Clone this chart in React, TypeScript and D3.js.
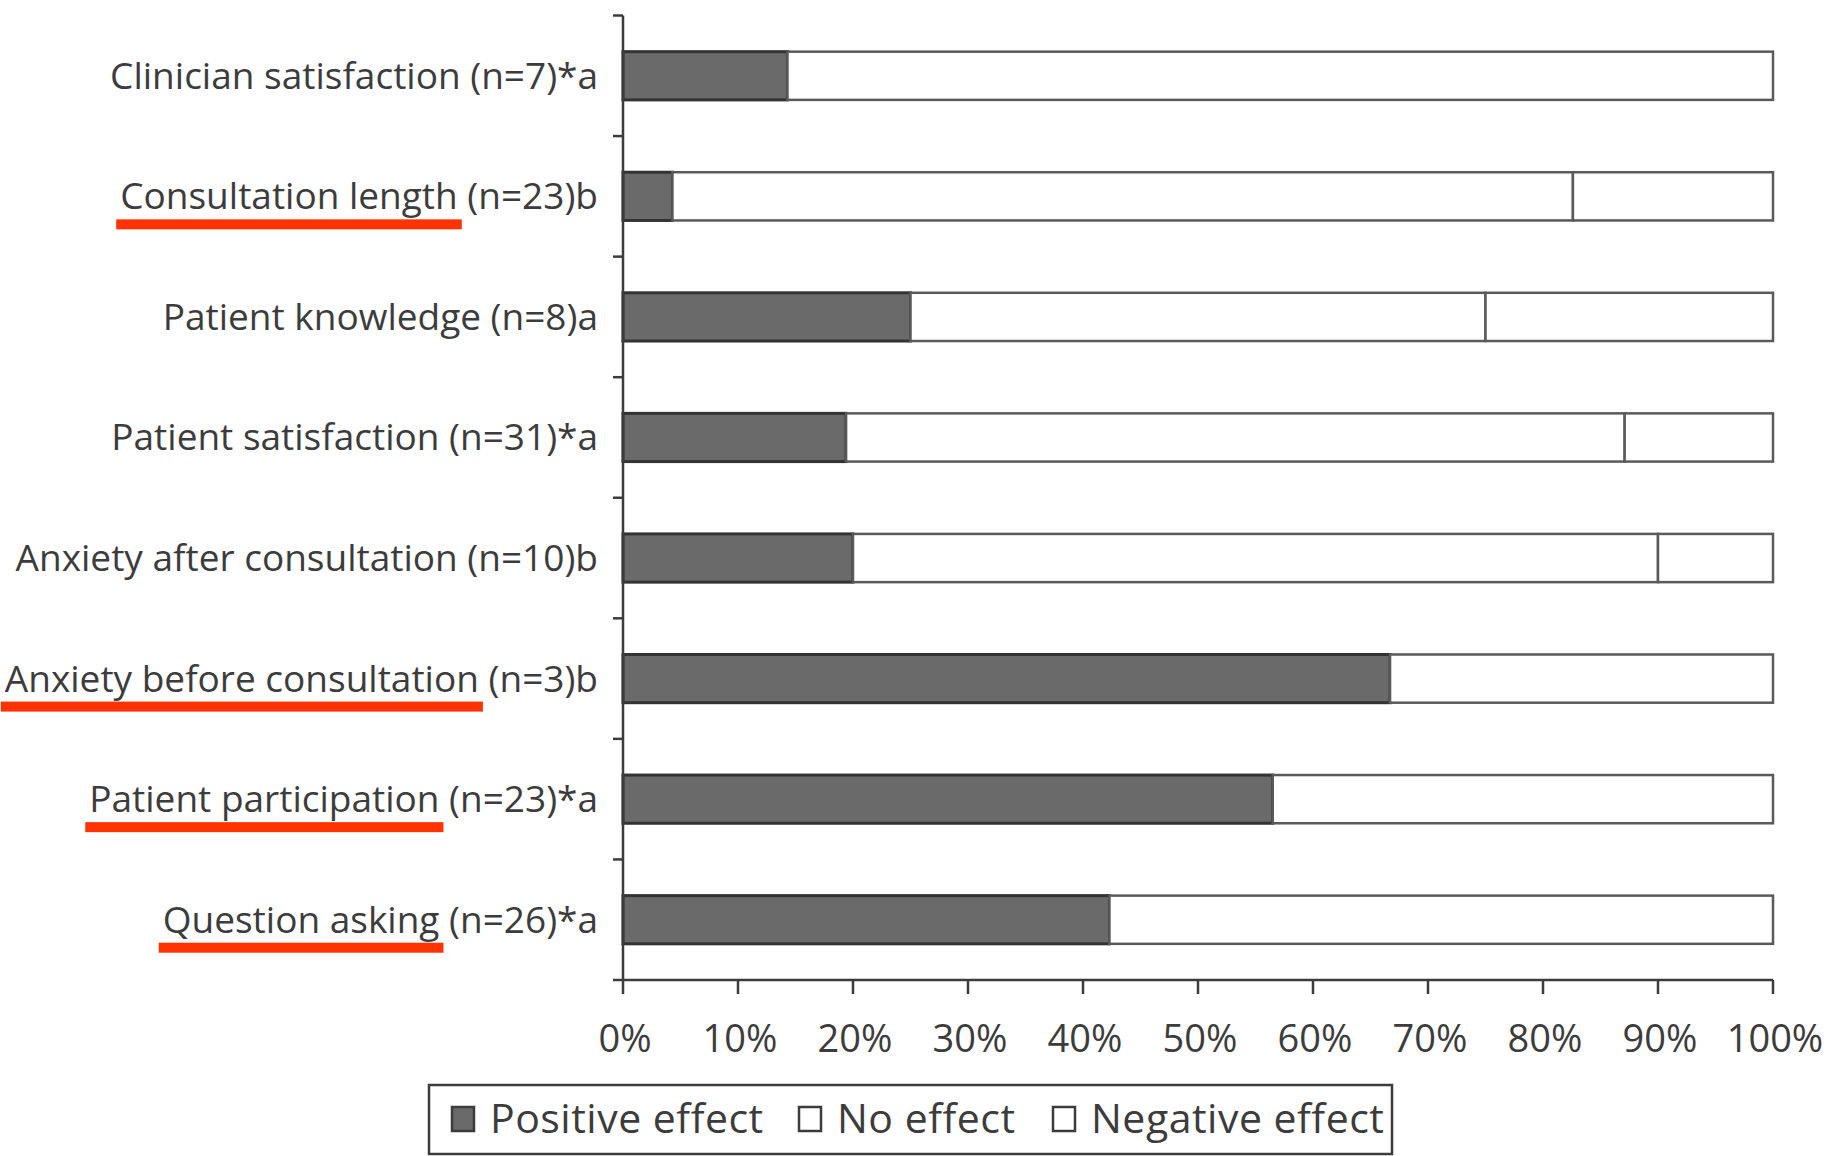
import { useEffect, useRef } from 'react';
import * as d3 from 'd3';

// categories, top to bottom
const categories = [
  'Clinician satisfaction',
  'Consultation length',
  'Patient knowledge',
  'Patient satisfaction',
  'Anxiety after consultation',
  'Anxiety before consultation',
  'Patient participation',
  'Question asking',
];
const suffixes = ['(n=7)*a', '(n=23)b', '(n=8)a', '(n=31)*a', '(n=10)b', '(n=3)b', '(n=23)*a', '(n=26)*a'];
// red hand-drawn underline under these names
const highlighted = [false, true, false, false, false, true, true, true];

// percentages
const positive = [14.3, 4.3, 25, 19.4, 20, 66.7, 56.5, 42.3];
const noEffect = [85.7, 78.3, 50, 67.7, 70, 33.3, 43.5, 57.7];
const negative = [0, 17.4, 25, 12.9, 10, 0, 0, 0];

const seriesNames = ['Positive effect', 'No effect', 'Negative effect'];
const xTicks = [0, 10, 20, 30, 40, 50, 60, 70, 80, 90, 100];

const W = 1845;
const H = 1156;
const INK = '#3c3c3c';
const LABEL_FONT = '"Open Sans", Roboto, sans-serif';

export default function App() {
  const svgRef = useRef<SVGSVGElement>(null);

  useEffect(() => {
    if (!svgRef.current) return;
    const svg = d3.select(svgRef.current);
    svg.selectAll('*').remove();

    const x = d3.scaleLinear().domain([0, 100]).range([623, 1773]);
    const y = d3.scaleBand<string>()
      .domain(categories)
      .range([15.5, 980])
      .paddingInner(0.6)
      .paddingOuter(0.3);

    const rows = categories.map((c, i) => ({
      cat: c,
      vals: [positive[i], noEffect[i], negative[i]],
    }));

    const g = svg.append('g');

    // bars
    rows.forEach(r => {
      let acc = 0;
      r.vals.forEach((v, k) => {
        if (v <= 0) { acc += v; return; }
        g.append('rect')
          .attr('x', x(acc))
          .attr('y', y(r.cat)!)
          .attr('width', x(acc + v) - x(acc))
          .attr('height', y.bandwidth())
          .attr('fill', k === 0 ? '#6a6a6a' : '#ffffff')
          .attr('stroke', k === 0 ? '#333' : '#5a5a5a')
          .attr('stroke-width', k === 0 ? 3 : 2.5);
        acc += v;
      });
    });

    // y axis with ticks between the categories
    const [y0, y1] = y.range();
    const step = y.step();
    g.append('line')
      .attr('x1', x(0)).attr('x2', x(0))
      .attr('y1', y0).attr('y2', y1)
      .attr('stroke', INK).attr('stroke-width', 2.5);
    d3.range(categories.length + 1).forEach(i => {
      g.append('line')
        .attr('x1', x(0) - 10).attr('x2', x(0))
        .attr('y1', y0 + i * step).attr('y2', y0 + i * step)
        .attr('stroke', INK).attr('stroke-width', 2.5);
    });

    // x axis
    g.append('line')
      .attr('x1', x(0)).attr('x2', x(100))
      .attr('y1', y1).attr('y2', y1)
      .attr('stroke', INK).attr('stroke-width', 2.5);
    xTicks.forEach(t => {
      g.append('line')
        .attr('x1', x(t)).attr('x2', x(t))
        .attr('y1', y1).attr('y2', y1 + 14)
        .attr('stroke', INK).attr('stroke-width', 2.5);
      g.append('text')
        .attr('x', x(t) + 2)
        .attr('y', y1 + 72)
        .attr('text-anchor', 'middle')
        .attr('font-family', LABEL_FONT)
        .attr('font-size', 38)
        .attr('fill', INK)
        .text(`${t}%`);
    });

    // category labels
    rows.forEach((r, i) => {
      const cy = y(r.cat)! + y.bandwidth() / 2;
      const t = g.append('text')
        .attr('x', 598)
        .attr('y', cy + 13)
        .attr('text-anchor', 'end')
        .attr('font-family', LABEL_FONT)
        .attr('font-size', 37)
        .attr('fill', INK)
        .text(`${r.cat} ${suffixes[i]}`);
      if (highlighted[i]) {
        const node = t.node() as SVGTextElement;
        const full = node.getComputedTextLength();
        const nameW = node.getSubStringLength(0, r.cat.length);
        const start = 598 - full;
        g.append('rect')
          .attr('x', start - 4)
          .attr('y', cy + 23)
          .attr('width', nameW + 8)
          .attr('height', 10)
          .attr('fill', '#ff3300');
      }
    });

    // legend
    const lg = svg.append('g');
    lg.append('rect')
      .attr('x', 429).attr('y', 1085)
      .attr('width', 963).attr('height', 69)
      .attr('fill', 'none').attr('stroke', INK).attr('stroke-width', 2.5);
    const itemX = [452, 799, 1053];
    seriesNames.forEach((s, k) => {
      lg.append('rect')
        .attr('x', itemX[k]).attr('y', 1107)
        .attr('width', 22).attr('height', 24)
        .attr('fill', k === 0 ? '#6a6a6a' : '#fff')
        .attr('stroke', INK).attr('stroke-width', 2.5);
      lg.append('text')
        .attr('x', itemX[k] + 38)
        .attr('y', 1133)
        .attr('font-family', LABEL_FONT)
        .attr('font-size', 41)
        .attr('letter-spacing', 0.5)
        .attr('fill', INK)
        .text(s);
    });
  }, []);

  return (
    <svg
      ref={svgRef}
      width={W}
      height={H}
      style={{ position: 'absolute', left: 0, top: 0, background: '#fff' }}
    />
  );
}
